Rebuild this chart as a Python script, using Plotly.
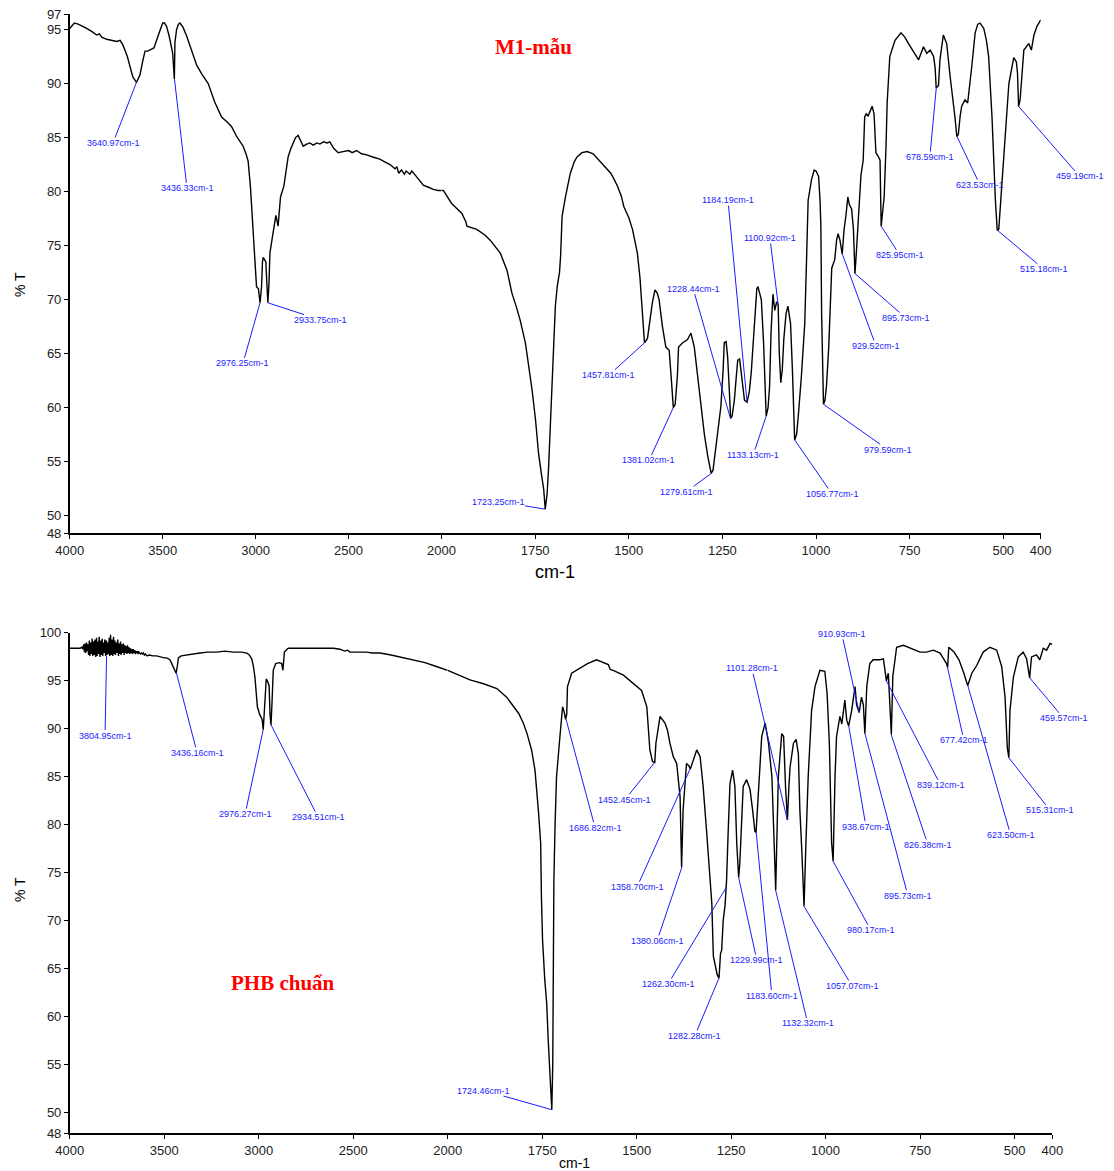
import plotly.graph_objects as go

# ---------------- DATA ----------------
# M1-mẫu spectrum, 4000-2000 cm-1 region
m1_wn_hi = [4000, 3975, 3954, 3930, 3909, 3880, 3855, 3840, 3828, 3801, 3770, 3747, 3729, 3715, 3703,
            3690, 3676, 3660, 3648, 3641, 3633, 3622, 3608, 3595, 3580, 3568, 3547, 3535, 3524, 3510,
            3500, 3490, 3479, 3465, 3455, 3446, 3437, 3434, 3425, 3415, 3407, 3390, 3371, 3345, 3317,
            3290, 3255, 3220, 3183, 3150, 3129, 3102, 3080, 3067, 3050, 3040, 3028, 3013, 3004, 2995,
            2985, 2976, 2968, 2963, 2959, 2952, 2945, 2938, 2934, 2928, 2923, 2915, 2905, 2891, 2879,
            2872, 2866, 2848, 2835, 2825, 2810, 2798, 2785, 2771, 2755, 2744, 2725, 2708, 2690, 2670,
            2654, 2635, 2615, 2601, 2580, 2556, 2530, 2500, 2480, 2457, 2430, 2403, 2370, 2332, 2300,
            2277, 2250, 2240, 2230, 2215, 2200, 2190, 2170, 2160, 2140, 2125, 2098, 2070, 2044, 2020, 2000]
m1_t_hi = [95.1, 95.6, 95.5, 95.3, 95.1, 94.8, 94.5, 94.6, 94.3, 94.1, 94.0, 93.9, 94.0, 93.6, 93.1,
           92.5, 91.6, 90.6, 90.3, 90.1, 90.4, 90.8, 92.0, 93.0, 93.0, 93.1, 93.3, 93.9, 94.4, 95.2,
           95.6, 95.6, 95.3, 94.4, 93.6, 92.8, 90.4, 93.8, 95.0, 95.5, 95.6, 95.2, 94.4, 93.0, 91.7,
           90.9, 90.0, 88.3, 86.9, 86.4, 86.0, 85.1, 84.6, 84.2, 83.4, 82.8, 80.5, 76.8, 73.7, 71.2,
           71.0, 69.7, 71.2, 73.5, 73.9, 73.7, 73.5, 71.0, 69.7, 71.5, 74.3, 75.2, 76.2, 77.8, 76.8,
           78.5, 79.5, 80.5, 82.0, 83.2, 84.0, 84.5, 85.0, 85.2, 84.6, 84.2, 84.4, 84.5, 84.3, 84.5,
           84.4, 84.6, 84.5, 84.6, 84.0, 83.6, 83.7, 83.8, 83.6, 83.8, 83.5, 83.4, 83.2, 83.0, 82.7,
           82.5, 82.1, 82.3, 81.7, 82.0, 81.6, 81.9, 81.6, 81.9, 81.5, 81.2, 80.6, 80.4, 80.2, 80.1, 80.1]

# M1-mẫu spectrum, 2000-400 cm-1 region
m1_wn_lo = [2000, 1995, 1973, 1946, 1935, 1932, 1906, 1885, 1870, 1843, 1825, 1812, 1800, 1790, 1776,
            1765, 1758, 1749, 1741, 1733, 1727, 1723, 1718, 1714, 1709, 1705, 1700, 1696, 1691, 1685,
            1682, 1678, 1669, 1656, 1645, 1638, 1625, 1611, 1595, 1580, 1565, 1548, 1540, 1530, 1520,
            1513, 1500, 1490, 1477, 1470, 1465, 1461, 1458, 1450, 1443, 1437, 1430, 1424, 1419, 1410,
            1401, 1392, 1386, 1381, 1376, 1370, 1367, 1356, 1343, 1334, 1325, 1316, 1307, 1298, 1289,
            1280, 1275, 1267, 1260, 1254, 1248, 1245, 1240, 1236, 1232, 1228, 1224, 1218, 1213, 1209,
            1204, 1198, 1191, 1184, 1178, 1173, 1164, 1158, 1155, 1150, 1146, 1140, 1136, 1133, 1128,
            1124, 1120, 1115, 1110, 1105, 1101, 1098, 1094, 1090, 1086, 1080, 1075, 1068, 1063, 1057,
            1052, 1048, 1039, 1030, 1025, 1021, 1012, 1005, 1000, 993, 989, 987, 985, 982, 980,
            976, 972, 966, 961, 958, 950, 945, 941, 936, 930, 925, 920, 915, 911, 905,
            900, 896, 892, 886, 880, 874, 870, 866, 861, 856, 850, 845, 840, 833, 829,
            826, 821, 818, 813, 810, 803, 789, 773, 763, 753, 740, 726, 713, 704, 695,
            686, 682, 679, 673, 669, 660, 651, 642, 634, 629, 624, 620, 615, 611, 602,
            595, 584, 575, 568, 562, 552, 545, 539, 530, 521, 516, 512, 505, 494, 485,
            472, 465, 462, 459, 455, 452, 445, 432, 425, 418, 414, 410, 405, 400]
m1_t_lo = [80.1, 80.1, 78.9, 78.0, 77.2, 76.8, 76.5, 76.0, 75.5, 74.3, 72.7, 70.6, 69.3, 68.1, 66.0,
           63.5, 61.6, 58.9, 55.8, 53.8, 52.4, 50.6, 52.0, 54.5, 58.5, 62.9, 66.5, 69.4, 71.2, 72.5,
           74.0, 77.7, 79.5, 81.7, 82.8, 83.2, 83.6, 83.7, 83.5, 82.9, 82.3, 81.7, 81.2, 80.5, 79.6,
           78.6, 77.6, 76.5, 74.3, 72.0, 69.5, 67.0, 66.0, 66.4, 68.5, 69.7, 70.9, 70.6, 70.0, 67.5,
           65.6, 65.3, 62.5, 60.0, 60.3, 63.0, 65.6, 66.0, 66.3, 66.9, 65.6, 63.0, 60.1, 57.5, 55.5,
           53.9, 54.2, 56.4, 58.5, 60.1, 63.5, 66.0, 66.1, 64.7, 62.0, 59.0, 59.2, 60.7, 62.8, 64.4,
           64.5, 62.8, 60.7, 60.5, 61.5, 63.2, 68.4, 71.0, 71.2, 70.6, 70.0, 66.0, 62.9, 59.2, 60.0,
           61.9, 67.0, 70.5, 69.0, 69.8, 69.5, 65.0, 62.3, 63.5, 66.3, 68.7, 69.4, 67.8, 63.5, 57.0,
           57.5, 58.9, 62.9, 67.8, 74.0, 79.2, 81.1, 82.0, 81.9, 81.4, 79.0, 76.8, 68.7, 63.0, 60.3,
           60.7, 62.0, 65.6, 70.0, 72.9, 73.7, 75.5, 76.1, 75.5, 74.2, 76.5, 77.8, 79.5, 78.8, 78.4,
           76.5, 72.4, 74.5, 78.5, 81.5, 82.9, 86.9, 87.2, 87.0, 87.4, 87.9, 87.2, 83.6, 83.2, 82.9,
           76.8, 78.5, 79.5, 84.2, 88.2, 92.5, 94.0, 94.7, 94.3, 93.7, 93.0, 92.2, 93.4, 92.8, 93.1,
           92.5, 91.5, 89.6, 89.8, 92.2, 94.5, 93.7, 90.7, 88.5, 86.9, 85.1, 85.3, 87.0, 87.9, 88.5,
           88.2, 91.6, 94.7, 95.5, 95.6, 95.1, 94.0, 92.5, 86.9, 79.2, 76.4, 76.5, 80.2, 86.0, 90.0,
           92.4, 92.0, 91.0, 87.9, 88.5, 89.7, 93.1, 93.7, 93.1, 94.5, 95.0, 95.3, 95.6, 95.9]

# PHB chuẩn spectrum, 4000-2000 cm-1 region (noisy band 3930-3590 read point by point)
phb_wn_hi = [4000, 3970, 3945, 3935,
             3930, 3926, 3922, 3918, 3915, 3911, 3907, 3903, 3900, 3896, 3893, 3889, 3885, 3881, 3878,
             3874, 3870, 3866, 3862, 3858, 3855, 3851, 3848, 3844, 3840, 3836, 3832, 3828, 3825, 3821,
             3818, 3814, 3810, 3806, 3802, 3798, 3795, 3791, 3788, 3784, 3780, 3776, 3772, 3768, 3765,
             3761, 3758, 3754, 3750, 3746, 3742, 3738, 3735, 3731, 3728, 3724, 3720, 3716, 3712, 3708,
             3705, 3701, 3698, 3694, 3690, 3686, 3682, 3678, 3675, 3671, 3668, 3664, 3660, 3656, 3652,
             3648, 3645, 3641, 3638, 3634, 3630, 3625, 3620, 3615, 3610, 3605, 3600, 3595, 3590,
             3580, 3560, 3540, 3522, 3500, 3487, 3470, 3460, 3450, 3443, 3437,
             3430, 3425, 3410, 3381, 3350, 3311, 3270, 3222, 3180, 3134, 3090, 3063, 3050, 3037, 3028,
             3020, 3012, 3007, 2995, 2989, 2982, 2976, 2970, 2967, 2960, 2952, 2945, 2940, 2935, 2930,
             2923, 2910, 2890, 2878, 2872, 2868, 2864, 2850, 2843, 2800, 2750, 2700, 2650, 2605, 2570,
             2545, 2530, 2517, 2480, 2429, 2400, 2358, 2300, 2250, 2182, 2120, 2060, 2005, 2000]
phb_t_hi = [98.4, 98.4, 98.4, 98.5,
            98.3, 98.8, 98.0, 98.9, 97.9, 99.0, 98.1, 98.8, 97.7, 99.2, 97.6, 99.0, 97.8, 99.4, 97.6,
            99.1, 97.7, 99.3, 97.5, 99.5, 97.6, 99.1, 97.8, 99.6, 97.5, 99.2, 97.7, 99.4, 97.6, 99.0,
            97.9, 99.3, 97.6, 99.2, 97.7, 99.0, 97.8, 99.5, 97.6, 99.8, 97.7, 99.3, 97.6, 99.6, 97.8,
            99.2, 97.7, 99.0, 97.9, 99.3, 97.6, 98.9, 97.8, 99.1, 97.7, 98.8, 97.9, 98.9, 97.7, 98.7,
            97.9, 98.6, 97.8, 98.7, 97.9, 98.5, 97.8, 98.4, 97.9, 98.3, 97.8, 98.3, 97.9, 98.2, 97.8,
            98.1, 97.9, 98.1, 97.8, 98.0, 97.9, 97.8, 97.9, 97.8, 97.9, 97.7, 97.8, 97.7, 97.6,
            97.7, 97.6, 97.6, 97.5, 97.4, 97.4, 97.2, 96.8, 96.3, 95.9, 95.8,
            96.6, 97.4, 97.6, 97.7, 97.8, 97.9, 98.0, 98.0, 98.1, 98.0, 98.0, 97.9, 97.7, 97.3, 96.5,
            95.4, 93.5, 92.3, 91.5, 91.3, 91.0, 89.9, 92.5, 93.7, 95.2, 94.9, 94.5, 91.5, 90.4, 92.5,
            96.1, 96.8, 96.9, 96.8, 96.1, 97.0, 98.0, 98.3, 98.4, 98.4, 98.4, 98.4, 98.4, 98.4, 98.3,
            98.1, 98.2, 98.0, 98.0, 98.0, 97.9, 97.9, 97.7, 97.5, 97.2, 96.9, 96.5, 96.1, 96.1]

# PHB chuẩn spectrum, 2000-400 cm-1 region
phb_wn_lo = [2000, 1970, 1941, 1905, 1870, 1844, 1826, 1812, 1800, 1790, 1778, 1769, 1760, 1754, 1752,
             1749, 1743, 1738, 1734, 1729, 1726, 1724.5, 1722, 1721, 1719, 1716, 1712, 1703, 1696, 1692,
             1688, 1685, 1683, 1672, 1650, 1630, 1606, 1590, 1575, 1570, 1562, 1535, 1509, 1487, 1473,
             1465, 1458, 1452, 1449, 1438, 1425, 1418, 1412, 1403, 1394, 1385, 1381, 1379, 1377, 1368,
             1361, 1358, 1350, 1341, 1332, 1324, 1315, 1306, 1301, 1297, 1292, 1287, 1282, 1278, 1275,
             1271, 1266, 1262, 1258, 1253, 1246, 1240, 1235, 1230, 1227, 1222, 1218, 1209, 1200, 1193,
             1187, 1184, 1178, 1169, 1160, 1151, 1142, 1136, 1132, 1128, 1125, 1116, 1111, 1106, 1101,
             1097, 1094, 1085, 1078, 1072, 1068, 1063, 1057, 1052, 1046, 1037, 1028, 1015, 1002, 996,
             990, 984, 980, 975, 971, 962, 957, 949, 944, 939, 931, 922, 918, 911, 905,
             900, 896, 891, 883, 874, 856, 847, 842, 839, 834, 830, 826, 822, 812, 794,
             776, 760, 750, 733, 715, 697, 687, 680, 677, 674, 660, 647, 634, 624, 613,
             600, 583, 565, 547, 534, 525, 519, 515, 512, 503, 490, 477, 468, 460, 455,
             442, 433, 424, 415, 406, 400]
phb_t_lo = [96.1, 95.6, 95.1, 94.7, 94.2, 93.3, 92.3, 91.6, 90.6, 89.5, 87.8, 85.7, 81.5, 78.1, 72.5,
            68.0, 63.8, 61.4, 57.6, 53.4, 51.0, 50.3, 55.0, 63.1, 74.2, 79.8, 85.0, 89.2, 92.3, 91.8,
            91.0, 91.5, 94.4, 95.8, 96.3, 96.8, 97.2, 96.9, 96.7, 96.2, 96.1, 95.6, 94.7, 94.0, 92.3,
            87.8, 86.6, 86.5, 88.5, 91.3, 90.6, 89.8, 88.5, 87.1, 86.4, 82.9, 75.6, 78.0, 81.6, 86.4,
            86.1, 85.8, 86.7, 87.8, 87.1, 84.0, 79.4, 74.6, 71.8, 66.3, 65.2, 64.4, 64.0, 66.6, 66.9,
            70.0, 71.6, 74.2, 79.0, 84.3, 85.7, 84.0, 78.0, 74.5, 76.0, 80.0, 84.0, 84.7, 83.7, 81.5,
            79.3, 79.2, 83.6, 89.2, 90.6, 88.5, 85.0, 78.0, 73.2, 80.0, 85.0, 89.5, 89.2, 84.0, 80.5,
            84.0, 86.0, 88.5, 88.9, 87.4, 81.5, 77.4, 71.5, 78.1, 85.0, 91.9, 94.4, 96.1, 96.0, 93.7,
            88.5, 78.1, 76.2, 85.0, 89.2, 91.3, 90.5, 93.0, 90.9, 90.3, 91.9, 94.4, 92.5, 91.7, 93.3,
            92.5, 89.5, 94.4, 96.8, 97.2, 97.2, 97.3, 96.0, 95.0, 95.8, 93.0, 89.4, 95.5, 98.5, 98.7,
            98.4, 98.2, 98.0, 98.0, 98.2, 97.9, 97.2, 96.8, 96.4, 98.5, 98.0, 97.2, 95.8, 94.5, 95.8,
            96.6, 98.0, 98.5, 98.2, 96.5, 93.3, 88.0, 87.0, 91.9, 95.4, 97.5, 98.0, 97.3, 95.3, 97.5,
            97.7, 97.2, 98.4, 98.2, 98.9, 98.8]

# Peak labels (wavenumber, %T at the peak)
m1_peak_wn = [3640.97, 3436.33, 2976.25, 2933.75, 1723.25, 1457.81, 1381.02, 1279.61, 1228.44, 1184.19,
              1100.92, 1133.13, 1056.77, 979.59, 929.52, 895.73, 825.95, 678.59, 623.53, 515.18, 459.19]
m1_peak_t = [90.1, 90.4, 69.7, 69.7, 50.6, 66.0, 60.0, 53.9, 59.0, 60.5,
             69.5, 59.2, 57.0, 60.3, 74.2, 72.4, 76.8, 89.7, 85.1, 76.4, 87.9]
phb_peak_wn = [3804.95, 3436.16, 2976.27, 2934.51, 1724.46, 1686.82, 1452.45, 1358.70, 1380.06, 1262.30,
               1282.28, 1229.99, 1183.60, 1132.32, 1101.28, 1057.07, 980.17, 938.67, 910.93, 895.73,
               839.12, 826.38, 677.42, 623.50, 515.31, 459.57]
phb_peak_t = [97.6, 95.9, 89.9, 90.4, 50.3, 91.0, 86.5, 85.8, 75.6, 73.5,
              64.0, 74.5, 79.2, 73.2, 80.5, 71.5, 76.2, 90.3, 91.7, 89.5,
              95.0, 89.4, 96.4, 94.5, 87.0, 95.3]

# label placement (position of label text, in axis units)
m1_lab_x = [3767, 3369, 3068, 2649, 1849, 1553, 1446, 1347, 1328, 1235,
            1123, 1168, 957, 808, 840, 760, 776, 696, 562, 391, 296]
m1_lab_y = [84.5, 80.3, 64.1, 68.1, 51.3, 63.0, 55.1, 52.2, 71.0, 79.2,
            75.7, 55.6, 52.0, 56.1, 65.7, 68.3, 74.1, 83.2, 80.6, 72.8, 81.4]
phb_lab_x = [3813, 3326, 3072, 2686, 1904, 1610, 1531, 1499, 1446, 1417,
             1346, 1182, 1142, 1047, 1195, 930, 880, 893, 957, 782,
             695, 729, 634, 510, 406, 370]
phb_lab_y = [89.3, 87.5, 81.1, 80.8, 52.3, 79.7, 82.6, 73.5, 67.9, 63.4,
             58.0, 65.9, 62.2, 59.3, 96.3, 63.2, 69.0, 79.8, 99.9, 72.6,
             84.1, 77.9, 88.8, 78.9, 81.5, 91.1]

xt_hi = [4000, 3500, 3000, 2500, 2000]
xt_lo = [1750, 1500, 1250, 1000, 750, 500, 400]
m1_yrange = [48.36, 96.44]
phb_yrange = [47.84, 100.02]
m1_yticks = [48.37, 50, 55, 60, 65, 70, 75, 80, 85, 90, 95, 96.42]
m1_ytext = ['48', '50', '55', '60', '65', '70', '75', '80', '85', '90', '95', '97']
phb_yticks = [47.85, 50, 55, 60, 65, 70, 75, 80, 85, 90, 95, 100]
phb_ytext = ['48', '50', '55', '60', '65', '70', '75', '80', '85', '90', '95', '100']

# ---------------- FIGURE ----------------
W, H = 1114, 1171
OFF = 8  # page body margin
def fx(p):
    return (p - OFF) / W
def fy(p):
    return 1 - (p - OFF) / H

line = dict(color='black', width=1.4)
fig = go.Figure()
fig.add_trace(go.Scatter(x=m1_wn_hi, y=m1_t_hi, xaxis='x', yaxis='y', mode='lines', line=line, hoverinfo='skip'))
fig.add_trace(go.Scatter(x=m1_wn_lo, y=m1_t_lo, xaxis='x2', yaxis='y', mode='lines', line=line, hoverinfo='skip'))
fig.add_trace(go.Scatter(x=phb_wn_hi, y=phb_t_hi, xaxis='x3', yaxis='y2', mode='lines', line=line, hoverinfo='skip'))
fig.add_trace(go.Scatter(x=phb_wn_lo, y=phb_t_lo, xaxis='x4', yaxis='y2', mode='lines', line=line, hoverinfo='skip'))

tickfont = dict(family='Liberation Sans, Arial, sans-serif', size=13, color='#222')
axcommon = dict(showline=True, linecolor='black', linewidth=1.5, ticks='outside', ticklen=4,
                tickwidth=1, tickcolor='black', showgrid=False, zeroline=False, tickfont=tickfont,
                fixedrange=True, automargin=False, ticklabeloverflow='allow')

fig.update_layout(
    width=W, height=H, margin=dict(l=0, r=0, t=0, b=0, pad=0, autoexpand=False),
    paper_bgcolor='white', plot_bgcolor='white', showlegend=False,
    xaxis=dict(domain=[fx(69.7), fx(441.5)], range=[4000, 2000], anchor='y',
               tickmode='array', tickvals=xt_hi, **axcommon),
    xaxis2=dict(domain=[fx(441.5), fx(1040.7)], range=[2000, 400], anchor='y',
                tickmode='array', tickvals=xt_lo, **axcommon),
    yaxis=dict(domain=[fy(533.3), fy(14)], range=m1_yrange, anchor='x',
               tickmode='array', tickvals=m1_yticks, ticktext=m1_ytext, **axcommon),
    xaxis3=dict(domain=[fx(69.7), fx(447.7)], range=[4000, 2000], anchor='y2',
                tickmode='array', tickvals=xt_hi, **axcommon),
    xaxis4=dict(domain=[fx(447.7), fx(1052.3)], range=[2000, 400], anchor='y2',
                tickmode='array', tickvals=xt_lo, **axcommon),
    yaxis2=dict(domain=[fy(1133.3), fy(632.7)], range=phb_yrange, anchor='x3',
                tickmode='array', tickvals=phb_yticks, ticktext=phb_ytext, **axcommon),
)

labfont = dict(family='Liberation Sans, Arial, sans-serif', size=9, color='#1a1aff')
annots = []
def add_labels(wn, tv, lx, ly, xhi, xlo, yref):
    for w, t, ax_, ay_ in zip(wn, tv, lx, ly):
        xr = xhi if w >= 2000 else xlo
        annots.append(dict(x=w, y=t, xref=xr, yref=yref, ax=ax_, ay=ay_, axref=xr, ayref=yref,
                           text=f"{w:.2f}cm-1", showarrow=True, arrowhead=0, arrowwidth=1,
                           arrowcolor='#1a1aff', standoff=0, startstandoff=0, font=labfont,
                           borderpad=0, xanchor='center', yanchor='middle'))

add_labels(m1_peak_wn, m1_peak_t, m1_lab_x, m1_lab_y, 'x', 'x2', 'y')
add_labels(phb_peak_wn, phb_peak_t, phb_lab_x, phb_lab_y, 'x3', 'x4', 'y2')

titlefont = dict(family='Liberation Sans, Arial, sans-serif', size=18, color='black')
bottitlefont = dict(family='Liberation Sans, Arial, sans-serif', size=14, color='black')
yfont = dict(family='Liberation Sans, Arial, sans-serif', size=14, color='black')
redfont = dict(family='Liberation Serif, Times New Roman, serif', size=21, color='red')
annots += [
    dict(x=fx(555), y=fy(572), xref='paper', yref='paper', text='cm-1', showarrow=False,
         font=titlefont, xanchor='center', yanchor='middle'),
    dict(x=fx(574), y=fy(1162.5), xref='paper', yref='paper', text='cm-1', showarrow=False,
         font=bottitlefont, xanchor='center', yanchor='middle'),
    dict(x=fx(20), y=fy(285), xref='paper', yref='paper', text='% T', showarrow=False, textangle=-90,
         font=yfont, xanchor='center', yanchor='middle'),
    dict(x=fx(20), y=fy(890), xref='paper', yref='paper', text='% T', showarrow=False, textangle=-90,
         font=yfont, xanchor='center', yanchor='middle'),
    dict(x=fx(533), y=fy(47), xref='paper', yref='paper', text='<b>M1-mẫu</b>', showarrow=False,
         font=redfont, xanchor='center', yanchor='middle'),
    dict(x=fx(283), y=fy(983), xref='paper', yref='paper', text='<b>PHB chuẩn</b>', showarrow=False,
         font=redfont, xanchor='center', yanchor='middle'),
]
fig.update_layout(annotations=annots)

fig.write_html("out.html", config={'displayModeBar': False})
